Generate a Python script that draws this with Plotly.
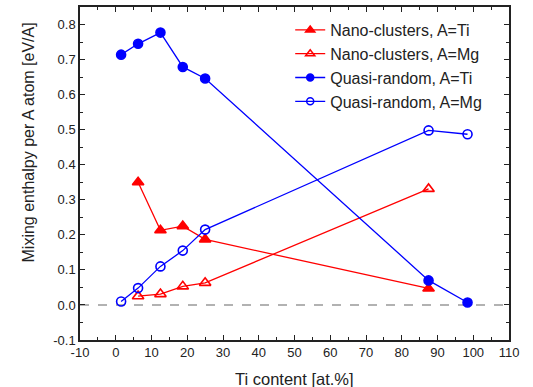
import plotly.graph_objects as go

# Ti content (at.%) for each structure
x_nano_ti = [6.25, 12.5, 18.75, 25.0, 87.5]
y_nano_ti = [0.350, 0.213, 0.225, 0.187, 0.047]

x_nano_mg = [6.25, 12.5, 18.75, 25.0, 87.5]
y_nano_mg = [0.025, 0.031, 0.053, 0.063, 0.331]

x_qr_ti = [1.5, 6.25, 12.5, 18.75, 25.0, 87.5, 98.4]
y_qr_ti = [0.714, 0.745, 0.777, 0.679, 0.646, 0.070, 0.007]

x_qr_mg = [1.5, 6.25, 12.5, 18.75, 25.0, 87.5, 98.4]
y_qr_mg = [0.010, 0.048, 0.110, 0.155, 0.215, 0.498, 0.487]

x_tickvals = [-10, 0, 10, 20, 30, 40, 50, 60, 70, 80, 90, 100, 110]
x_ticktext = ["-10", "0", "10", "20", "30", "40", "50", "60", "70", "80", "90", "100", "110"]
y_tickvals = [-0.1, 0.0, 0.1, 0.2, 0.3, 0.4, 0.5, 0.6, 0.7, 0.8]
y_ticktext = ["-0.1", "0.0", "0.1", "0.2", "0.3", "0.4", "0.5", "0.6", "0.7", "0.8"]

RED = "#ff0000"
BLUE = "#0000ff"
INK = "#222222"
FONT = "Liberation Sans, Arial"

series = [
    ("Nano-clusters, A=Ti", x_nano_ti, y_nano_ti, RED, "triangle-up", 10),
    ("Nano-clusters, A=Mg", x_nano_mg, y_nano_mg, RED, "triangle-up-open", 10),
    ("Quasi-random, A=Ti", x_qr_ti, y_qr_ti, BLUE, "circle", 9),
    ("Quasi-random, A=Mg", x_qr_mg, y_qr_mg, BLUE, "circle-open", 9),
]

fig = go.Figure()

# zero reference line
fig.add_trace(go.Scatter(x=[-10, 110], y=[0, 0], mode="lines",
                         line=dict(color="#999999", width=1.5, dash="dash"),
                         showlegend=False, hoverinfo="skip"))

for name, xs, ys, color, symbol, size in series:
    fig.add_trace(go.Scatter(x=xs, y=ys, mode="lines+markers", name=name,
                             showlegend=False,
                             line=dict(color=color, width=1.3),
                             marker=dict(symbol=symbol, size=size, color=color,
                                         line=dict(width=1.6, color=color))))

# legend entries with smaller glyphs
for name, xs, ys, color, symbol, size in series:
    fig.add_trace(go.Scatter(x=[None], y=[None], mode="lines+markers", name=name,
                             line=dict(color=color, width=1.3),
                             marker=dict(symbol=symbol, size=size - 2, color=color,
                                         line=dict(width=1.5, color=color))))

axis_common = dict(showline=True, linecolor=INK, linewidth=1.5, mirror="allticks",
                   ticks="inside", ticklen=5, tickwidth=1.3, tickcolor=INK,
                   showgrid=False, zeroline=False, automargin=False,
                   tickfont=dict(family=FONT, size=13, color=INK))

fig.update_xaxes(range=[-10, 110], tickmode="array", tickvals=x_tickvals, ticktext=x_ticktext,
                 minor=dict(ticks="inside", dtick=5, ticklen=3, tickwidth=1.3, tickcolor=INK),
                 **axis_common)
fig.update_yaxes(range=[-0.1, 0.85], tickmode="array", tickvals=y_tickvals, ticktext=y_ticktext,
                 minor=dict(ticks="inside", dtick=0.05, tick0=0, ticklen=3, tickwidth=1.3, tickcolor=INK),
                 **axis_common)

# axis titles
fig.add_annotation(text="Mixing enthalpy per A atom [eV/A]", textangle=-90,
                   xref="paper", yref="paper", x=-0.119, y=0.593,
                   xanchor="center", yanchor="middle", showarrow=False,
                   font=dict(family=FONT, size=16, color=INK))
fig.add_annotation(text="Ti content [at.%]",
                   xref="paper", yref="paper", x=0.5, y=-0.117,
                   xanchor="center", yanchor="middle", showarrow=False,
                   font=dict(family=FONT, size=16.5, color=INK))

fig.update_layout(
    width=533, height=387,
    margin=dict(l=80, r=24, t=7, b=47),
    plot_bgcolor="white", paper_bgcolor="white",
    legend=dict(x=0.49, y=0.982, xanchor="left", yanchor="top",
                bgcolor="rgba(0,0,0,0)", tracegroupgap=0,
                font=dict(family=FONT, size=16, color=INK)),
)

fig.write_html("out.html")
